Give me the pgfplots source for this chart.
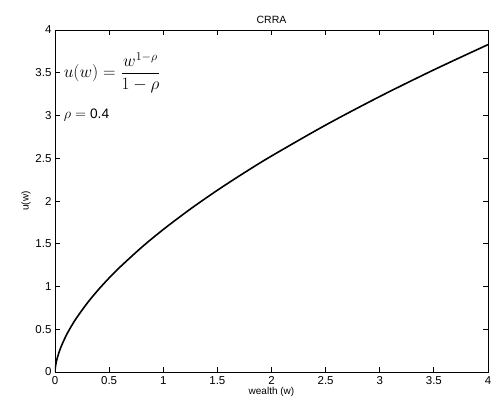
\documentclass[border=0pt]{standalone}
\usepackage{fontspec}
\setmainfont{Liberation Sans}
\usepackage{pgfplots}
\pgfplotsset{compat=1.18}
\begin{document}
\begin{tikzpicture}
\begin{axis}[
  scale only axis,
  width=433pt, height=342pt,
  xmin=0, xmax=4, ymin=0, ymax=4,
  xtick={0,0.5,...,4}, ytick={0,0.5,...,4},
  tick align=inside,
  major tick length=5pt,
  tick pos=both,
  axis line style={line width=0.8pt},
  every tick/.style={black, line width=0.8pt},
  /pgf/number format/assume math mode=true,
  ticklabel style={font=\fontsize{11.5}{13}\selectfont},
  xticklabel style={yshift=-1pt},
  title={CRRA},
  title style={font=\fontsize{10.5}{12}\selectfont, yshift=-3pt},
  xlabel={wealth (w)},
  ylabel={u(w)},
  xlabel style={font=\fontsize{10}{11}\selectfont, yshift=4pt},
  ylabel style={font=\fontsize{10}{11}\selectfont, yshift=-2pt},
]
\addplot[black, line width=1.6pt, smooth] coordinates {
(0,0) (0.002,0.0400) (0.005,0.0697) (0.01,0.1052) (0.02,0.1593) (0.05,0.2762) (0.1,0.4187) (0.15,0.5340)
(0.2,0.6345) (0.3,0.8093) (0.4,0.9618) (0.5,1.0997) (0.6,1.2267) (0.8,1.4578)
(1,1.6667) (1.25,1.9055) (1.5,2.1257) (1.75,2.3316) (2,2.5262) (2.5,2.8880)
(3,3.2220) (3.5,3.5342) (4,3.8290)
};
\node[anchor=west, inner sep=0pt, font=\fontsize{17}{20}\selectfont] at (axis cs:0.08,3.5) {$\displaystyle u(w) = \frac{w^{1-\rho}}{1-\rho}$};
\node[anchor=west, inner sep=0pt, font=\fontsize{13.7}{16}\selectfont] at (axis cs:0.08,3.0) {$\rho = {}$0.4};
\end{axis}
\pgfresetboundingbox
\path[use as bounding box] (-55pt,-38pt) rectangle (439pt,372pt);
\end{tikzpicture}
\end{document}
